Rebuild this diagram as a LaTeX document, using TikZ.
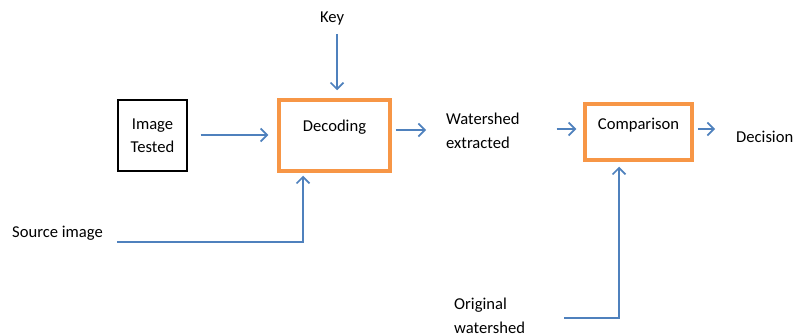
\documentclass[tikz,border=0pt]{standalone}
\usepackage{fontspec}
\setmainfont{Carlito}
\usetikzlibrary{arrows.meta,positioning}
\definecolor{arrblue}{HTML}{4F81BD}
\definecolor{boxorange}{HTML}{F79646}
\tikzset{
  txt/.style={inner sep=0pt, font=\fontsize{16.6}{24}\selectfont, align=left},
  plainbox/.style={draw=black, line width=1.3pt, inner sep=0pt, font=\fontsize{16.6}{23}\selectfont, align=center},
  procbox/.style={draw=boxorange, line width=3.5pt, inner sep=0pt},
  boxlabel/.style={font=\fontsize{16.6}{20}\selectfont, inner sep=0pt},
  arr/.style={draw=arrblue, line width=1.6pt, -{Straight Barb[length=6.5pt,width=13pt,line width=1.6pt]}}
}
\begin{document}
\begin{tikzpicture}[x=1pt,y=-1pt]
\useasboundingbox (0,0) rectangle (795,336);
\node[plainbox, minimum width=69pt, minimum height=71pt] (img) at (152.5,135.5) {Image\\Tested};
\node[procbox, minimum width=111pt, minimum height=71pt,
      label={[boxlabel,yshift=8.5pt]center:Decoding}] (dec) at (334.5,135.5) {};
\node[txt] (key) at (332,19) {Key};
\node[txt, anchor=west] (ws) at (446,131) {Watershed\\extracted};
\node[procbox, minimum width=107pt, minimum height=56pt,
      label={[boxlabel,yshift=7pt]center:Comparison}] (cmp) at (638.5,132) {};
\node[txt, anchor=west] (dcs) at (736,137) {Decision};
\node[txt, anchor=west] (src) at (12,233) {Source image};
\node[txt, anchor=west] (orig) at (454,316) {Original\\watershed};

\draw[arr, shorten <=13pt, shorten >=9pt] ([yshift=0.5pt]img.east) -- ([yshift=0.5pt]dec.west);
\draw[arr, shorten <=8pt, shorten >=8pt] ([xshift=5pt]key.south) -- ([xshift=5pt]key.south |- dec.north);
\draw[arr, shorten <=4pt, shorten >=20pt] ([yshift=5.5pt]dec.east) -- ([yshift=5.5pt]dec.east -| ws.west);
\draw[arr, shorten <=37pt, shorten >=7pt] ([yshift=3pt]cmp.west -| ws.east) -- ([yshift=3pt]cmp.west);
\draw[arr, shorten <=4pt, shorten >=21pt] ([yshift=3pt]cmp.east) -- ([yshift=3pt]cmp.east -| dcs.west);
\draw[arr, shorten <=14pt, shorten >=3pt] ([yshift=-9pt]src.east) -| ([xshift=-31.5pt]dec.south);
\draw[arr, shorten <=39pt, shorten >=5pt] ([yshift=-2pt]orig.east) -| ([xshift=-19.5pt]cmp.south);
\end{tikzpicture}
\end{document}
